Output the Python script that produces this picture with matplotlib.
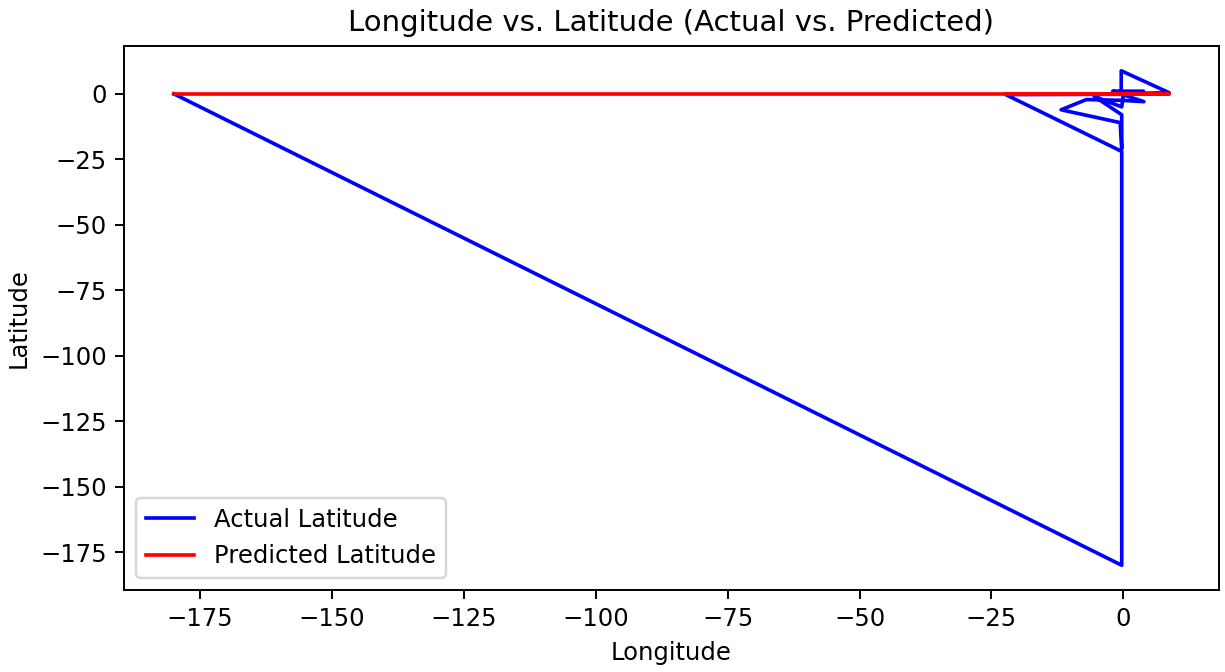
import matplotlib
matplotlib.use("Agg")
import matplotlib.pyplot as plt

# Track points (longitude, latitude) in recorded order
longitude = [-180.0, -0.3, -0.3, -22.3, -0.4, -0.4, 8.7, 0.2, -2.0, 3.8,
             0.2, 3.9, -0.3, -7.0, -11.8, -0.6, -0.3, -0.3, -5.5, -0.3, 0.0]
actual_lat = [0.0, -180.0, -22.0, -0.3, -0.2, 8.8, 0.4, 0.1, 1.0, 1.0,
              -0.5, -3.0, -2.5, -2.2, -6.1, -11.0, -21.0, -8.0, -1.0, -5.0, 0.0]
predicted_lat = [0.1, 0.1, 0.1, 0.1, 0.1, 0.1, 0.1, 0.1, 0.1, 0.1,
                 0.1, 0.1, 0.1, 0.1, 0.1, 0.1, 0.1, 0.1, 0.1, 0.1, 0.1]

DPI = 175
fig, ax = plt.subplots(figsize=(1225 / DPI, 672 / DPI), dpi=DPI)
fig.subplots_adjust(left=0.1012, right=0.9951, top=0.9315, bottom=0.122)

ax.plot(longitude, actual_lat, color='blue', label='Actual Latitude')
ax.plot(longitude, predicted_lat, color='red', label='Predicted Latitude')

ax.set_title('Longitude vs. Latitude (Actual vs. Predicted)')
ax.set_xlabel('Longitude')
ax.set_ylabel('Latitude')
ax.legend(loc='lower left')

fig.savefig('out.png', dpi=DPI)
